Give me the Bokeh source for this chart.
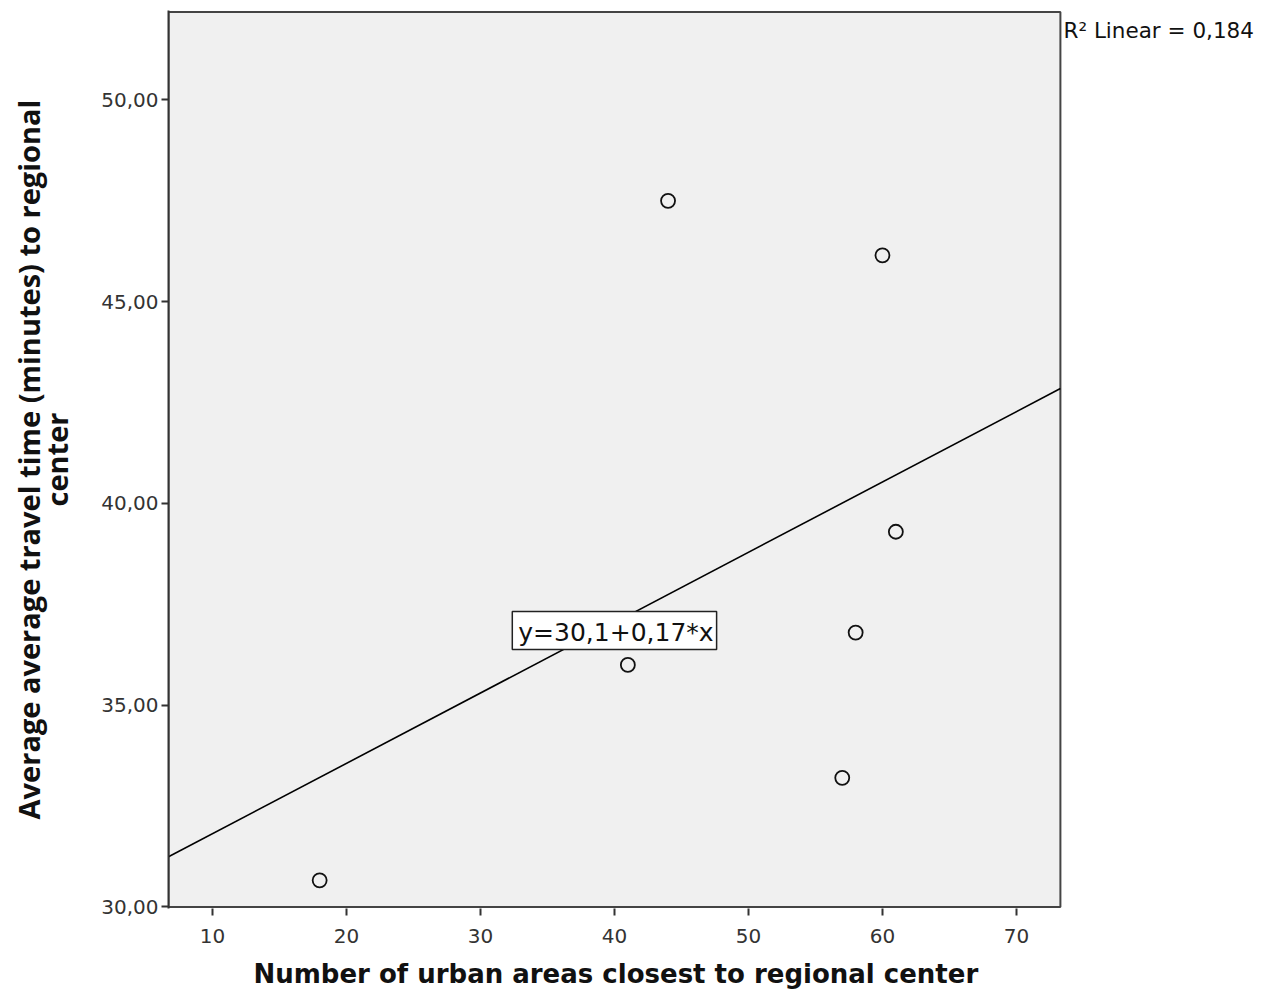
import numpy as np
from bokeh.plotting import figure
from bokeh.models import Label, FixedTicker, Range1d, Title
from bokeh.embed import file_html
from bokeh.resources import INLINE

# Data
urban_areas = [18, 41, 44, 57, 58, 60, 61]
travel_time = [30.66, 36.0, 47.5, 33.2, 36.8, 46.15, 39.3]
x_ticks = [10, 20, 30, 40, 50, 60, 70]
y_ticks = [30, 35, 40, 45, 50]
y_tick_labels = ["30,00", "35,00", "40,00", "45,00", "50,00"]
equation_text = "y=30,1+0,17*x"
r2_text = "R\u00b2 Linear = 0,184"
x_title = "Number of urban areas closest to regional center"
y_title = "Average average travel time (minutes) to regional\ncenter"

# plot box (axes region) bounds
box_x0, box_x1 = 6.72, 73.28
box_y0, box_y1 = 30.0, 52.18

slope, intercept = np.polyfit(urban_areas, travel_time, 1)

pad_y = 1.5 / 40.3
p = figure(width=1271, height=1001, output_backend="svg", toolbar_location=None,
           x_range=Range1d(box_x0, box_x0 + 1103 / 13.4),
           y_range=Range1d(box_y0 - pad_y, box_y1 + pad_y),
           min_border_left=168, min_border_right=0, min_border_top=10, min_border_bottom=93)

p.background_fill_color = "white"
p.border_fill_color = "white"
p.outline_line_color = None
p.xgrid.visible = False
p.ygrid.visible = False

# grey plot box with dark frame
p.quad(left=[box_x0], right=[box_x1], bottom=[box_y0], top=[box_y1],
       fill_color="#f0f0f0", line_color="#444444", line_width=2, level="underlay")

p.xaxis.ticker = FixedTicker(ticks=x_ticks)
p.yaxis.ticker = FixedTicker(ticks=y_ticks)
p.yaxis.major_label_overrides = {t: l for t, l in zip(y_ticks, y_tick_labels)}

for ax in (p.xaxis[0], p.yaxis[0]):
    ax.axis_line_color = "#333333"
    ax.axis_line_width = 2
    ax.major_tick_line_color = "#333333"
    ax.major_tick_line_width = 2
    ax.major_tick_in = 0
    ax.major_tick_out = 7
    ax.minor_tick_line_color = None
    ax.major_label_text_font = "DejaVu Sans"
    ax.major_label_text_font_size = "20px"
    ax.major_label_text_color = "#333333"
p.xaxis.axis_line_color = None
p.xaxis.major_label_standoff = 13
p.yaxis.major_label_standoff = 3

# x title centred under the plot box (not the whole frame)
p.add_layout(Title(text=x_title, align="left", offset=85, standoff=23,
                   text_font="DejaVu Sans", text_font_style="bold",
                   text_font_size="26px", text_color="#111111"), "below")

p.yaxis.axis_label = y_title
p.yaxis.axis_label_text_font = "Open Sans"
p.yaxis.axis_label_text_font_style = "bold"
p.yaxis.axis_label_text_font_size = "29px"
p.yaxis.axis_label_text_line_height = 0.72
p.yaxis.axis_label_text_color = "#111111"
p.yaxis.axis_label_standoff = 22

# fitted regression line across the plot box
fit_x = [box_x0, box_x1]
fit_y = [intercept + slope * v for v in fit_x]
p.line(fit_x, fit_y, line_color="black", line_width=1.6)

p.scatter(urban_areas, travel_time, marker="circle", size=14, fill_color=None,
          line_color="#111111", line_width=1.8)

p.add_layout(Label(x=40.0, y=36.85, text=equation_text, text_align="center",
                   text_baseline="middle", text_font="DejaVu Sans", text_font_size="25px",
                   text_color="#111111", background_fill_color="white",
                   border_line_color="#222222", border_line_width=1.5,
                   padding=(6, 3, 6, 3)))

p.add_layout(Label(x=73.51, y=51.73, text=r2_text, text_align="left",
                   text_baseline="middle", text_font="DejaVu Sans", text_font_size="21.5px",
                   text_color="#111111"))

open("out.html", "w").write(file_html(p, INLINE))
